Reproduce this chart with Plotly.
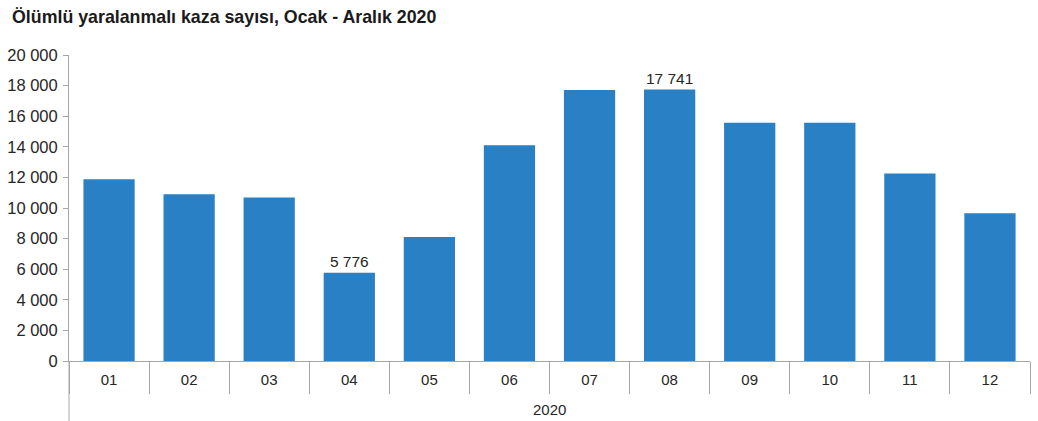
import plotly.graph_objects as go

# Monthly counts of accidents with fatalities/injuries, 2020
months = ["01", "02", "03", "04", "05", "06", "07", "08", "09", "10", "11", "12"]
accidents = [11880, 10900, 10680, 5776, 8100, 14100, 17720, 17741, 15580, 15570, 12260, 9660]
labelled_months = ["04", "08"]
year_label = "2020"
title_text = "Ölümlü yaralanmalı kaza sayısı, Ocak - Aralık 2020"

y_ticks = list(range(0, 20001, 2000))


def fmt(v):
    return f"{v:,}".replace(",", " ")


bar_text = [fmt(v) if m in labelled_months else "" for m, v in zip(months, accidents)]

font_family = "Liberation Sans, Arial, sans-serif"
text_color = "#262626"
axis_color = "#a6a6a6"

fig = go.Figure(
    go.Bar(
        x=months,
        y=accidents,
        text=bar_text,
        textposition="outside",
        cliponaxis=False,
        textfont=dict(family=font_family, size=15.5, color=text_color),
        marker=dict(color="#2a80c4", line=dict(width=0)),
        hoverinfo="x+y",
    )
)

fig.update_layout(
    width=1038,
    height=421,
    margin=dict(l=69, r=8, t=55, b=60),
    paper_bgcolor="white",
    plot_bgcolor="white",
    bargap=0.36,
    showlegend=False,
    separators=", ",
    font=dict(family=font_family, size=15, color=text_color),
    title=dict(
        text=f"<b>{title_text}</b>",
        x=12 / 1038,
        xref="container",
        xanchor="left",
        y=1 - 17 / 421,
        yref="container",
        yanchor="middle",
        font=dict(family=font_family, size=17.8, color="#1a1a1a"),
    ),
)

fig.update_xaxes(
    type="category",
    showline=True,
    linecolor=axis_color,
    linewidth=1,
    ticks="outside",
    tickson="boundaries",
    ticklen=32,
    tickcolor=axis_color,
    tickwidth=1,
    ticklabelstandoff=5,
    tickfont=dict(family=font_family, size=15, color=text_color),
    showgrid=False,
    zeroline=False,
)

fig.update_yaxes(
    range=[0, 20000],
    tickvals=y_ticks,
    ticktext=[fmt(v) for v in y_ticks],
    showline=True,
    linecolor=axis_color,
    linewidth=1,
    ticks="outside",
    ticklen=5,
    tickcolor=axis_color,
    ticklabelstandoff=2,
    tickfont=dict(family=font_family, size=16.5, color=text_color),
    showgrid=False,
    zeroline=False,
)

# left axis line continues down past the category band
fig.add_shape(
    type="line", xref="paper", yref="paper",
    x0=0, x1=0, y0=0, y1=-0.2,
    line=dict(color=axis_color, width=1),
)

# outer category label under the month row
fig.add_annotation(
    text=year_label,
    xref="paper", yref="paper",
    x=0.5, y=(361 - 410) / 306,
    showarrow=False,
    yanchor="middle",
    font=dict(family=font_family, size=15, color=text_color),
)

fig.write_html("out.html")
